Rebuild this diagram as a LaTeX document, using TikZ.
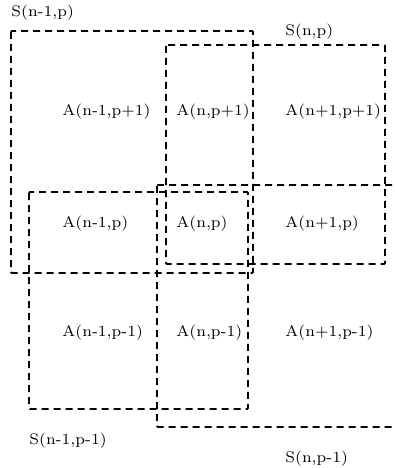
\documentclass[tikz,border=0pt]{standalone}
\usepackage{tikz}

\begin{document}
\begin{tikzpicture}[
    x=1pt, y=-1pt,
    zone/.style={draw, line width=1.9pt, dash pattern=on 7pt off 5pt, rounded corners=1pt},
    cell/.style={anchor=west, inner sep=0pt, font=\scriptsize, scale=2.2},
    tag/.style={anchor=west, inner sep=0pt, font=\scriptsize, scale=2.2}
]
\useasboundingbox (0,0) rectangle (395,468);
\clip (0,0) rectangle (395,468);
% Subdomains
\draw[zone] (11,31) rectangle (253,273);
\draw[zone] (166,45) rectangle (385,264);
\draw[zone] (29,192) rectangle (248,409);
\draw[zone] (157,185) rectangle (412,427);
\node[tag] (snm1p) at (11,13) {S(n-1,p)};
\node[tag] (snp) at (285,32) {S(n,p)};
\node[tag] (snm1pm1) at (29,441) {S(n-1,p-1)};
\node[tag] (snpm1) at (285,459) {S(n,p-1)};
% Cells
\node[cell] (a11) at (62,112) {A(n-1,p+1)};
\node[cell] (a21) at (176,112) {A(n,p+1)};
\node[cell] (a31) at (285,112) {A(n+1,p+1)};
\node[cell] (a12) at (62,224) {A(n-1,p)};
\node[cell] (a22) at (176,224) {A(n,p)};
\node[cell] (a32) at (285,224) {A(n+1,p)};
\node[cell] (a13) at (62,333) {A(n-1,p-1)};
\node[cell] (a23) at (176,333) {A(n,p-1)};
\node[cell] (a33) at (285,333) {A(n+1,p-1)};
\end{tikzpicture}
\end{document}
